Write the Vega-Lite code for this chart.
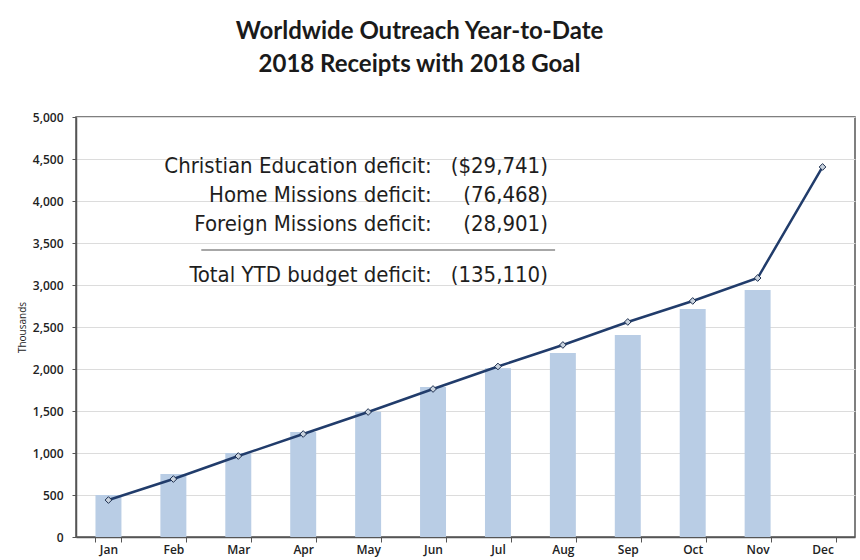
{
  "$schema": "https://vega.github.io/schema/vega-lite/v6.json",
  "width": 779,
  "height": 420,
  "autosize": {"type": "none"},
  "padding": {"left": 76, "top": 117, "right": 5, "bottom": 23},
  "background": "white",
  "title": {
    "text": ["Worldwide Outreach Year-to-Date", "2018 Receipts with 2018 Goal"],
    "font": "Lato",
    "fontSize": 24,
    "fontWeight": "bold",
    "color": "#1a1a1a",
    "lineHeight": 33,
    "anchor": "middle",
    "frame": "group",
    "dx": -46,
    "offset": 34
  },
  "config": {
    "view": {"stroke": "#555555", "strokeWidth": 1.5},
    "axis": {"labelFont": "Open Sans", "titleFont": "Open Sans", "labelColor": "#222222", "titleColor": "#222222"},
    "axisY": {"titleFontSize": 10, "titleFontWeight": "normal", "titlePadding": 5, "labelFontSize": 12, "labelFontWeight": 600, "format": ",.0f", "tickSize": 4, "labelPadding": 9, "tickColor": "#555555", "domainColor": "#555555", "domainWidth": 1.5, "gridColor": "#dcdcdc", "gridWidth": 1}
  },
  "datasets": {
    "monthly": [
      {"month": "Jan", "receipts": 500, "goal": 440},
      {"month": "Feb", "receipts": 750, "goal": 690},
      {"month": "Mar", "receipts": 1000, "goal": 964},
      {"month": "Apr", "receipts": 1250, "goal": 1226},
      {"month": "May", "receipts": 1490, "goal": 1488},
      {"month": "Jun", "receipts": 1786, "goal": 1762},
      {"month": "Jul", "receipts": 2010, "goal": 2030},
      {"month": "Aug", "receipts": 2190, "goal": 2286},
      {"month": "Sep", "receipts": 2405, "goal": 2560},
      {"month": "Oct", "receipts": 2714, "goal": 2810},
      {"month": "Nov", "receipts": 2940, "goal": 3083},
      {"month": "Dec", "receipts": null, "goal": 4405}
    ],
    "notes": [
      {"label": "Christian Education deficit:", "amount": "($29,741)", "yv": 4333},
      {"label": "Home Missions deficit:", "amount": "(76,468)", "yv": 3988},
      {"label": "Foreign Missions deficit:", "amount": "(28,901)", "yv": 3643},
      {"label": "Total YTD budget deficit:", "amount": "(135,110)", "yv": 3036}
    ],
    "divider": [
      {"start": 1.93, "end": 7.38, "yv": 3417}
    ]
  },
  "layer": [
    {
      "layer": [
        {
          "data": {"name": "monthly"},
          "mark": {"type": "bar", "color": "#b9cde5"},
          "encoding": {
            "x": {
              "field": "month", "type": "ordinal", "sort": null,
              "scale": {"paddingInner": 0.6, "paddingOuter": 0.3},
              "axis": {"title": null, "labelAngle": 0, "labelFontSize": 12, "labelFontWeight": 600, "tickBand": "extent", "tickSize": 5, "tickColor": "#555555", "domainColor": "#555555", "domainWidth": 1.5, "labelPadding": 2}
            },
            "y": {
              "field": "receipts", "type": "quantitative",
              "scale": {"domain": [0, 5000]},
              "title": "Thousands",
              "axis": {"title": "Thousands", "values": [0, 500, 1000, 1500, 2000, 2500, 3000, 3500, 4000, 4500, 5000]}
            }
          }
        },
        {
          "data": {"name": "monthly"},
          "mark": {"type": "line", "color": "#213c6b", "strokeWidth": 2.5, "point": {"shape": "diamond", "filled": true, "fill": "#c8d2de", "stroke": "#1d2f4f", "strokeWidth": 1, "size": 45}},
          "encoding": {
            "x": {"field": "month", "type": "ordinal", "sort": null},
            "y": {
              "field": "goal", "type": "quantitative",
              "title": "Thousands",
              "axis": {"title": "Thousands", "values": [0, 500, 1000, 1500, 2000, 2500, 3000, 3500, 4000, 4500, 5000]}
            }
          }
        }
      ]
    },
    {
      "layer": [
        {
          "data": {"name": "notes"},
          "mark": {"type": "text", "align": "right", "baseline": "alphabetic", "font": "DejaVu Sans Condensed", "fontSize": 22, "color": "#1e1e1e"},
          "encoding": {
            "x": {"datum": 5.48, "type": "quantitative", "scale": {"domain": [0, 12]}, "axis": null},
            "y": {
              "field": "yv", "type": "quantitative",
              "title": "Thousands",
              "axis": {"title": "Thousands", "values": [0, 500, 1000, 1500, 2000, 2500, 3000, 3500, 4000, 4500, 5000]}
            },
            "text": {"field": "label"}
          }
        },
        {
          "data": {"name": "notes"},
          "mark": {"type": "text", "align": "right", "baseline": "alphabetic", "font": "DejaVu Sans Condensed", "fontSize": 22, "color": "#1e1e1e"},
          "encoding": {
            "x": {"datum": 7.27, "type": "quantitative", "scale": {"domain": [0, 12]}, "axis": null},
            "y": {
              "field": "yv", "type": "quantitative",
              "title": "Thousands",
              "axis": {"title": "Thousands", "values": [0, 500, 1000, 1500, 2000, 2500, 3000, 3500, 4000, 4500, 5000]}
            },
            "text": {"field": "amount"}
          }
        },
        {
          "data": {"name": "divider"},
          "mark": {"type": "rule", "color": "#8a8a8a", "strokeWidth": 1.5},
          "encoding": {
            "x": {"field": "start", "type": "quantitative", "scale": {"domain": [0, 12]}, "axis": null},
            "x2": {"field": "end"},
            "y": {
              "field": "yv", "type": "quantitative",
              "title": "Thousands",
              "axis": {"title": "Thousands", "values": [0, 500, 1000, 1500, 2000, 2500, 3000, 3500, 4000, 4500, 5000]}
            }
          }
        }
      ]
    }
  ],
  "resolve": {"scale": {"x": "independent"}}
}
